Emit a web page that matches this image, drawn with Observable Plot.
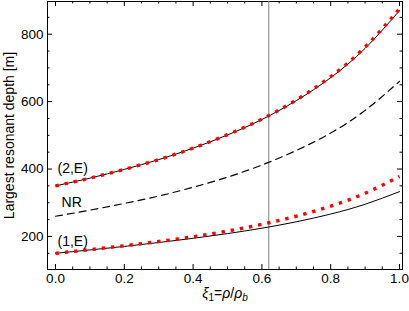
<!DOCTYPE html>
<html>
<head>
<meta charset="utf-8">
<script src="https://cdn.jsdelivr.net/npm/d3@7"></script>
<script src="https://cdn.jsdelivr.net/npm/@observablehq/plot@0.6"></script>
<style>
  html, body { margin: 0; padding: 0; background: #fff; }
  #chart svg { display: block; }
</style>
</head>
<body>
<div id="chart"></div>
<script>
// ---- data ----
const xi = [0, 0.1, 0.2, 0.3, 0.4, 0.5, 0.6, 0.7, 0.8, 0.9, 1.0];
const depth2E      = [350, 373, 399, 428, 462, 501, 547, 603, 671, 758, 870];
const depth2Edots  = [350, 373, 399, 428, 462, 502, 548, 605, 674, 762, 875];
const depthNR      = [260, 278, 298, 320, 346, 376, 412, 455, 507, 574, 660];
const depth1E      = [150, 160, 170.5, 182, 194.5, 208.5, 224.5, 243.5, 266.5, 295.5, 333];
const depth1Edots  = [150, 161, 172.5, 185, 199, 216, 236, 260, 290, 328, 378];
const xiMarker = [0.62];
const curveLabels = ["(2,E)", "NR", "(1,E)"];
const xTicks = [0, 0.2, 0.4, 0.6, 0.8, 1.0];
const yTicks = [200, 400, 600, 800];
const xTitle = "ξ1=ρ/ρb";
const yTitle = "Largest resonant depth [m]";

const W = 409, H = 311;
const mTop = 1, mBottom = 42, mLeft = 47, mRight = 7;
const innerH = H - mTop - mBottom;
const innerW = W - mLeft - mRight;

const rows = (ys) => xi.map((x, i) => ({x, y: ys[i]}));
const xMinor = d3.range(0, 1.0001, 0.05).map(v => +v.toFixed(2));
const yMinor = d3.range(150, 851, 50);
const isMajorX = v => xTicks.some(t => Math.abs(t - v) < 1e-6);
const isMajorY = v => yTicks.includes(v);

const font = "'Liberation Sans', Arial, sans-serif";

const labelData = [
  {x: xi[0], y: depth2E[0], t: curveLabels[0], dx: 2, dy: -17},
  {x: xi[0], y: depthNR[0], t: curveLabels[1], dx: 6, dy: -14},
  {x: xi[0], y: depth1E[0], t: curveLabels[2], dx: 2, dy: -12}
];

const dotStyle = {stroke: "#ff0000", strokeWidth: 3.4, strokeDasharray: "3.4,5.9", strokeLinecap: "butt", curve: "natural"};

const plot = Plot.plot({
  width: W, height: H,
  marginTop: mTop, marginBottom: mBottom, marginLeft: mLeft, marginRight: mRight,
  style: {fontFamily: font, fontSize: "13.5px", color: "#000", background: "#fff"},
  x: {domain: [-0.0233, 1.0087]},
  y: {domain: [102, 897]},
  marks: [
    // inward ticks on all four sides
    Plot.ruleX(xMinor.filter(v => !isMajorX(v)), {x: d => d, insetTop: innerH - 2.5, stroke: "#000"}),
    Plot.ruleX(xMinor.filter(v => !isMajorX(v)), {x: d => d, insetBottom: innerH - 2.5, stroke: "#000"}),
    Plot.ruleX(xTicks, {x: d => d, insetTop: innerH - 5, stroke: "#000"}),
    Plot.ruleX(xTicks, {x: d => d, insetBottom: innerH - 5, stroke: "#000"}),
    Plot.ruleY(yMinor.filter(v => !isMajorY(v)), {y: d => d, insetRight: innerW - 2.5, stroke: "#000"}),
    Plot.ruleY(yMinor.filter(v => !isMajorY(v)), {y: d => d, insetLeft: innerW - 2.5, stroke: "#000"}),
    Plot.ruleY(yTicks, {y: d => d, insetRight: innerW - 5, stroke: "#000"}),
    Plot.ruleY(yTicks, {y: d => d, insetLeft: innerW - 5, stroke: "#000"}),
    Plot.axisX({ticks: xTicks, tickFormat: d3.format(".1f"), tickSize: 0, tickPadding: 4, label: null, fontSize: 13.5}),
    Plot.axisY({ticks: yTicks, tickSize: 0, tickPadding: 4, label: null, fontSize: 13.5}),
    Plot.frame({stroke: "#000", strokeWidth: 1}),
    // vertical marker
    Plot.ruleX(xiMarker, {x: d => d, stroke: "#808080", strokeWidth: 1}),
    // curves
    Plot.line(rows(depth2E), {x: "x", y: "y", stroke: "#000", strokeWidth: 1, curve: "natural"}),
    Plot.line(rows(depth1E), {x: "x", y: "y", stroke: "#000", strokeWidth: 1, curve: "natural"}),
    Plot.line(rows(depthNR), {x: "x", y: "y", stroke: "#000", strokeWidth: 1.2, strokeDasharray: "7,5", curve: "natural"}),
    Plot.line(rows(depth2Edots), {x: "x", y: "y", ...dotStyle}),
    Plot.line(rows(depth1Edots), {x: "x", y: "y", ...dotStyle}),
    // curve labels
    Plot.text(labelData, {x: "x", y: "y", text: "t", textAnchor: "start", fontSize: 14, fill: "#000"}),
    // axis titles
    Plot.text([xTitle], {frameAnchor: "bottom", dy: 24, text: d => d, fontSize: 14, lineAnchor: "middle", fill: "#000"}),
    Plot.text([yTitle], {frameAnchor: "left", dx: -38, rotate: -90, text: d => d, fontSize: 14, textAnchor: "middle", lineAnchor: "middle", fill: "#000"})
  ]
});

// per-label offsets for the curve labels, and the sub/italic styling of the x title
d3.select(plot).selectAll("text").each(function() {
  const el = this;
  const t = el.textContent;
  const L = labelData.find(d => d.t === t);
  if (L) {
    el.setAttribute("transform", (el.getAttribute("transform") || "") + ` translate(${L.dx},${L.dy})`);
  }
  if (t === xTitle) {
    const sel = d3.select(el);
    sel.text(null);
    sel.append("tspan").attr("font-style", "italic").text("ξ");
    sel.append("tspan").attr("font-size", "10px").attr("dy", 3).text("1");
    sel.append("tspan").attr("dy", -3).text("=");
    sel.append("tspan").attr("font-style", "italic").text("ρ");
    sel.append("tspan").text("/");
    sel.append("tspan").attr("font-style", "italic").text("ρ");
    sel.append("tspan").attr("font-size", "10px").attr("font-style", "italic").attr("dy", 3).text("b");
  }
});

document.getElementById("chart").appendChild(plot);
</script>
</body>
</html>
